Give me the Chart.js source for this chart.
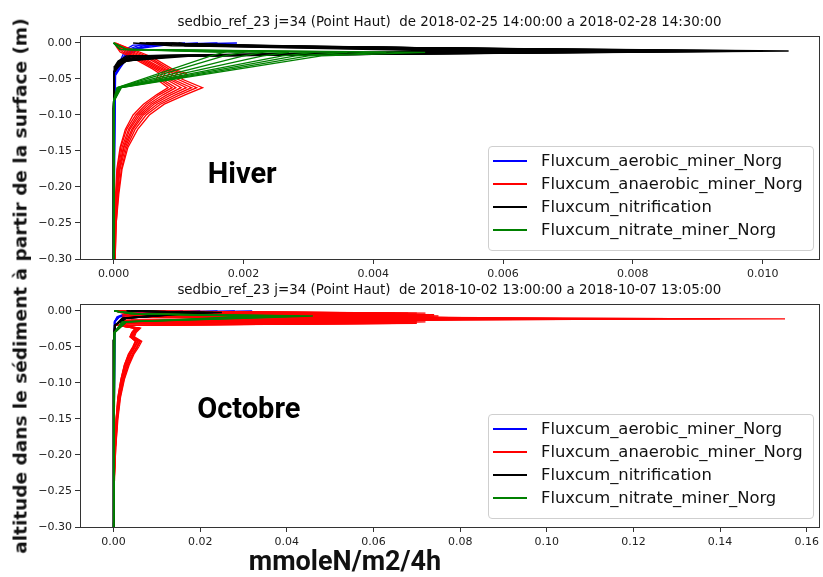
<!DOCTYPE html>
<html>
<head>
<meta charset="utf-8">
<script src="https://cdn.jsdelivr.net/npm/chart.js@4.4.1/dist/chart.umd.min.js"></script>
<style>
  html, body { margin: 0; padding: 0; background: #fff; }
  #page { position: relative; width: 823px; height: 577px; overflow: hidden; background: #fff; }
  canvas { position: absolute; left: 0; }
  #hiver { top: 0; }
  #octobre { top: 268px; }
  .legend {
    position: absolute; left: 488px; width: 326px; height: 105px; box-sizing: border-box;
    border: 1px solid #cfcfcf; border-radius: 4px; background: rgba(255,255,255,0.85);
    font: 16.4px "DejaVu Sans"; color: #111; z-index: 2;
  }
  .legend .row { position: absolute; left: 0; width: 100%; height: 23px; line-height: 23px; }
  .legend .swatch { position: absolute; left: 4px; top: 11px; width: 34px; height: 0; border-top: 2px solid; }
  .legend .txt { position: absolute; left: 52px; top: 0; white-space: nowrap; }
  .ylabel {
    position: absolute; left: 20px; top: 286px; transform: translate(-50%, -50%) rotate(-90deg);
    font: bold 18.5px "DejaVu Sans"; white-space: nowrap; color: #111; z-index: 2;
  }
  .xlabel {
    position: absolute; left: 345px; top: 561px; transform: translate(-50%, -50%);
    font: bold 27px Roboto; white-space: nowrap; color: #111; z-index: 2;
  }
</style>
</head>
<body>
<div id="page">
  <canvas id="hiver" width="823" height="290"></canvas>
  <canvas id="octobre" width="823" height="300"></canvas>
  <div class="legend" id="legHiver" style="top:146px"></div>
  <div class="legend" id="legOctobre" style="top:414px"></div>
  <div class="ylabel">altitude dans le sédiment à partir de la surface (m)</div>
  <div class="xlabel">mmoleN/m2/4h</div>
</div>
<script>
const seriesNames = ["Fluxcum_aerobic_miner_Norg", "Fluxcum_anaerobic_miner_Norg", "Fluxcum_nitrification", "Fluxcum_nitrate_miner_Norg"];
const seriesColors = ["#0000ff", "#ff0000", "#000000", "#008000"];
const seriesWidths = [1.3, 1.3, 1.5, 1.3];

const yTicks = [0, -0.05, -0.10, -0.15, -0.20, -0.25, -0.30];
const hiverXTicks = [0, 0.002, 0.004, 0.006, 0.008, 0.010];
const octobreXTicks = [0, 0.02, 0.04, 0.06, 0.08, 0.10, 0.12, 0.14, 0.16];

// --- winter run: depth levels (m) and cumulated flux profiles ---
const hiverAerDepth = [0, -0.003, -0.008, -0.015, -0.025, -0.035, -0.045, -0.31];
const hiverAer = [
  [0.0019, 0.0003, 0.0002, 0.00015, 0.0001, 0.00005, 0.00001, 0],
  [0.0016, 0.0004, 0.00025, 0.00018, 0.00012, 0.00006, 0.00001, 0],
  [0.0013, 0.0005, 0.0003, 0.0002, 0.00013, 0.00007, 0.00002, 0],
  [0.0011, 0.0006, 0.00032, 0.00022, 0.00015, 0.00008, 0.00002, 0],
  [0.0009, 0.0008, 0.00035, 0.00024, 0.00016, 0.00009, 0.00002, 0],
  [0.0007, 0.0006, 0.0004, 0.00026, 0.00018, 0.0001, 0.00003, 0]
];

const hiverAnaDepth = [0, -0.006, -0.0125, -0.02, -0.028, -0.036, -0.042, -0.05, -0.062, -0.072, -0.085, -0.1, -0.12, -0.145, -0.175, -0.21, -0.25, -0.31];
const hiverAna = [
  [0.00003, 0.0002, 0.0004, 0.0006, 0.00075, 0.0009, 0.00112, 0.00105, 0.00137, 0.0011, 0.00078, 0.00055, 0.00037, 0.00022, 0.00013, 0.00008, 0.00004, 0.00002],
  [0.00003, 0.00018, 0.00035, 0.00055, 0.0007, 0.00085, 0.00105, 0.00098, 0.00128, 0.00102, 0.00072, 0.0005, 0.00033, 0.0002, 0.00012, 0.00007, 0.00004, 0.00002],
  [0.00002, 0.00015, 0.0003, 0.0005, 0.00066, 0.0008, 0.00098, 0.0009, 0.0012, 0.00095, 0.00067, 0.00046, 0.0003, 0.00018, 0.0001, 0.00006, 0.00003, 0.00002],
  [0.00002, 0.00012, 0.00026, 0.00045, 0.0006, 0.00076, 0.00092, 0.00085, 0.00112, 0.00088, 0.00062, 0.00043, 0.00028, 0.00016, 0.00009, 0.00005, 0.00003, 0.00001],
  [0.00002, 0.0001, 0.00022, 0.0004, 0.00056, 0.00072, 0.00086, 0.0008, 0.00104, 0.00082, 0.00058, 0.0004, 0.00025, 0.00015, 0.00008, 0.00005, 0.00003, 0.00001],
  [0.00001, 0.00008, 0.00018, 0.00036, 0.00052, 0.00068, 0.0008, 0.00074, 0.00096, 0.00076, 0.00054, 0.00037, 0.00023, 0.00013, 0.00007, 0.00004, 0.00002, 0.00001],
  [0.00001, 0.00006, 0.00014, 0.00032, 0.00048, 0.00064, 0.00075, 0.0007, 0.0009, 0.0007, 0.0005, 0.00034, 0.0002, 0.00011, 0.00006, 0.00004, 0.00002, 0.00001],
  [0.00001, 0.00005, 0.0001, 0.00028, 0.00044, 0.0006, 0.0007, 0.00066, 0.00084, 0.00066, 0.00046, 0.0003, 0.00018, 0.0001, 0.00005, 0.00003, 0.00002, 0.00001]
];

const hiverNitDepth = [0, -0.004, -0.011, -0.018, -0.025, -0.032, -0.04, -0.09, -0.31];
const hiverNit = [
  [0.0003, 0.0009, 0.0104, 0.0005, 0.0002, 0.00008, 0.00001, 0.000005, 0],
  [0.0004, 0.0012, 0.0100, 0.0008, 0.0002, 0.00008, 0.00001, 0.000005, 0],
  [0.0004, 0.0015, 0.0096, 0.001, 0.00018, 0.00007, 0.00001, 0, 0],
  [0.0005, 0.0018, 0.0092, 0.0012, 0.00016, 0.00006, 0.00001, 0, 0],
  [0.0005, 0.0021, 0.0088, 0.0009, 0.00015, 0.00006, 0.00001, 0, 0],
  [0.0006, 0.0024, 0.0084, 0.0007, 0.00014, 0.00005, 0.00001, 0, 0],
  [0.0006, 0.0026, 0.008, 0.0006, 0.00013, 0.00005, 0.00001, 0, 0],
  [0.0007, 0.0022, 0.0075, 0.0005, 0.00012, 0.00004, 0.00001, 0, 0],
  [0.0008, 0.0018, 0.007, 0.0004, 0.0001, 0.00004, 0.00001, 0, 0],
  [0.0009, 0.0015, 0.0064, 0.0003, 0.0001, 0.00003, 0.00001, 0, 0],
  [0.001, 0.0013, 0.0058, 0.00025, 0.00008, 0.00003, 0.00001, 0, 0],
  [0.0011, 0.0011, 0.0052, 0.0002, 0.00007, 0.00002, 0.00001, 0, 0]
];

const hiverNmDepth = [0, -0.009, -0.013, -0.018, -0.062, -0.08, -0.31];
const hiverNm = [
  [0, 0.0002, 0.0048, 0.0032, 0.00012, 0.00001, 0],
  [0, 0.0002, 0.0042, 0.003, 0.00011, 0.00001, 0],
  [0, 0.0002, 0.0036, 0.0028, 0.0001, 0.00001, 0],
  [0, 0.0002, 0.0031, 0.0026, 0.00009, 0.00001, 0],
  [0, 0.0001, 0.0027, 0.0023, 0.00008, 0, 0],
  [0, 0.0001, 0.0023, 0.002, 0.00007, 0, 0],
  [0, 0.0001, 0.002, 0.0017, 0.00006, 0, 0],
  [0, 0.0001, 0.0017, 0.0015, 0.00005, 0, 0]
];

// --- october run ---
const octAerDepth = [0, -0.003, -0.008, -0.015, -0.31];
const octAer = [
  [0.032, 0.003, 0.0008, 0.0002, 0],
  [0.028, 0.004, 0.001, 0.0002, 0],
  [0.024, 0.004, 0.001, 0.0002, 0],
  [0.02, 0.005, 0.0012, 0.0003, 0],
  [0.016, 0.005, 0.0012, 0.0003, 0],
  [0.012, 0.006, 0.0014, 0.0003, 0]
];

// thin surface layers oscillate strongly from one output to the next
const octAnaDepth = [0, -0.003, -0.005, -0.007, -0.009, -0.011, -0.013, -0.015, -0.017, -0.02, -0.024, -0.03, -0.036, -0.042, -0.05, -0.06, -0.075, -0.095, -0.12, -0.15, -0.19, -0.23, -0.31];
const octAna = [
  [0.0005, 0.06, 0.004, 0.07, 0.003, 0.155, 0.004, 0.06, 0.003, 0.002, 0.0062, 0.0052, 0.0048, 0.0065, 0.0058, 0.0047, 0.0036, 0.0025, 0.0016, 0.001, 0.0005, 0.0002, 0.00005],
  [0.0005, 0.004, 0.07, 0.003, 0.074, 0.14, 0.003, 0.002, 0.065, 0.002, 0.006, 0.005, 0.0046, 0.0062, 0.0055, 0.0045, 0.0034, 0.0024, 0.0015, 0.0009, 0.0005, 0.0002, 0.00005],
  [0.0004, 0.065, 0.002, 0.072, 0.004, 0.125, 0.07, 0.003, 0.05, 0.0018, 0.0059, 0.0049, 0.0045, 0.0061, 0.0054, 0.0044, 0.0033, 0.0023, 0.0014, 0.0009, 0.0004, 0.0002, 0.00004],
  [0.0004, 0.003, 0.068, 0.005, 0.075, 0.11, 0.002, 0.07, 0.004, 0.0016, 0.0058, 0.0048, 0.0044, 0.006, 0.0053, 0.0043, 0.0032, 0.0022, 0.0014, 0.0008, 0.0004, 0.0002, 0.00004],
  [0.0004, 0.07, 0.003, 0.074, 0.002, 0.1, 0.004, 0.072, 0.06, 0.0015, 0.0056, 0.0046, 0.0042, 0.0057, 0.005, 0.004, 0.003, 0.002, 0.0013, 0.0008, 0.0004, 0.00015, 0.00004],
  [0.0003, 0.002, 0.072, 0.003, 0.075, 0.09, 0.003, 0.068, 0.003, 0.0012, 0.0055, 0.0045, 0.0041, 0.0056, 0.0049, 0.0039, 0.0029, 0.002, 0.0012, 0.0007, 0.0003, 0.00015, 0.00003],
  [0.0003, 0.068, 0.004, 0.073, 0.003, 0.085, 0.072, 0.002, 0.07, 0.001, 0.0054, 0.0045, 0.004, 0.0055, 0.0048, 0.0038, 0.0028, 0.0019, 0.0012, 0.0007, 0.0003, 0.00015, 0.00003],
  [0.0003, 0.005, 0.074, 0.002, 0.074, 0.08, 0.003, 0.07, 0.002, 0.001, 0.0052, 0.0043, 0.0039, 0.0052, 0.0046, 0.0036, 0.0026, 0.0018, 0.0011, 0.0006, 0.0003, 0.0001, 0.00003],
  [0.0002, 0.072, 0.003, 0.075, 0.004, 0.078, 0.07, 0.003, 0.066, 0.001, 0.0051, 0.0042, 0.0038, 0.0051, 0.0045, 0.0035, 0.0025, 0.0017, 0.001, 0.0006, 0.0003, 0.0001, 0.00002],
  [0.0002, 0.004, 0.073, 0.004, 0.073, 0.076, 0.004, 0.068, 0.003, 0.001, 0.005, 0.0042, 0.0038, 0.005, 0.0044, 0.0034, 0.0025, 0.0017, 0.001, 0.0006, 0.0003, 0.0001, 0.00002]
];

const octNitDepth = [0, -0.002, -0.005, -0.01, -0.02, -0.04, -0.31];
const octNit = [
  [0.003, 0.025, 0.012, 0.002, 0.0004, 0.00005, 0],
  [0.003, 0.023, 0.013, 0.002, 0.0004, 0.00005, 0],
  [0.004, 0.021, 0.014, 0.0025, 0.0003, 0.00004, 0],
  [0.004, 0.019, 0.015, 0.0025, 0.0003, 0.00004, 0],
  [0.005, 0.017, 0.014, 0.003, 0.0003, 0.00003, 0],
  [0.005, 0.015, 0.013, 0.003, 0.0002, 0.00003, 0]
];

const octNmDepth = [0, -0.004, -0.007, -0.01, -0.015, -0.03, -0.31];
const octNm = [
  [0.0002, 0.004, 0.046, 0.032, 0.003, 0.0003, 0],
  [0.0002, 0.004, 0.043, 0.03, 0.003, 0.0003, 0],
  [0.0002, 0.005, 0.04, 0.028, 0.0025, 0.0002, 0],
  [0.0001, 0.005, 0.037, 0.026, 0.0025, 0.0002, 0],
  [0.0001, 0.006, 0.034, 0.024, 0.002, 0.0002, 0],
  [0.0001, 0.006, 0.031, 0.022, 0.002, 0.0001, 0]
];

Chart.defaults.font.family = '"DejaVu Sans"';
Chart.defaults.font.size = 11;
Chart.defaults.color = "#222";

function toPoints(depths, profiles) {
  return profiles.map(vals => vals.map((v, i) => ({ x: v, y: depths[i] })));
}

// one dataset per profile; later series are drawn on top (like successive plot calls)
function buildDatasets(groups) {
  const out = [];
  groups.forEach((g, s) => {
    toPoints(g[0], g[1]).forEach(pts => out.push({
      label: seriesNames[s],
      data: pts,
      borderColor: seriesColors[s],
      borderWidth: seriesWidths[s],
      pointRadius: 0,
      showLine: true,
      fill: false,
      order: groups.length - s
    }));
  });
  return out;
}

const framePlugin = {
  id: "frame",
  afterDatasetsDraw(chart) {
    const a = chart.chartArea, ctx = chart.ctx;
    ctx.save();
    ctx.strokeStyle = "#333";
    ctx.lineWidth = 1;
    ctx.strokeRect(Math.round(a.left) + 0.5, Math.round(a.top) + 0.5, Math.round(a.right - a.left), Math.round(a.bottom - a.top));
    ctx.restore();
  }
};

const panelText = {
  id: "panelText",
  afterDraw(chart, args, opts) {
    const a = chart.chartArea, ctx = chart.ctx;
    ctx.save();
    ctx.fillStyle = "#111";
    ctx.font = '13.4px "DejaVu Sans"';
    ctx.textAlign = "center";
    ctx.textBaseline = "middle";
    ctx.fillText(opts.title, (a.left + a.right) / 2, a.top - 13);
    ctx.font = "bold 29px Roboto";
    ctx.textAlign = "left";
    ctx.fillStyle = "#000";
    ctx.fillText(opts.label, chart.scales.x.getPixelForValue(opts.labelX), chart.scales.y.getPixelForValue(opts.labelY));
    ctx.restore();
  }
};

function axisGrid() {
  return { drawOnChartArea: false, drawTicks: true, tickLength: 5, color: "#333", lineWidth: 1 };
}

function makePanel(id, groups, cfg) {
  return new Chart(document.getElementById(id), {
    type: "scatter",
    data: { datasets: buildDatasets(groups) },
    options: {
      responsive: false,
      animation: false,
      events: [],
      devicePixelRatio: 1,
      layout: { padding: { top: 36, right: 4, bottom: 0, left: 0 } },
      scales: {
        x: {
          type: "linear",
          min: cfg.xMin,
          max: cfg.xMax,
          afterBuildTicks: s => { s.ticks = cfg.xTicks.map(v => ({ value: v })); },
          afterFit: s => { s.height = cfg.xAxisHeight; },
          grid: axisGrid(),
          border: { display: false },
          ticks: { autoSkip: false, maxRotation: 0, padding: 4, callback: v => v.toFixed(cfg.xDecimals) }
        },
        y: {
          type: "linear",
          min: -0.30,
          max: 0.0097,
          afterBuildTicks: s => { s.ticks = yTicks.map(v => ({ value: v })); },
          afterFit: s => { s.width = 80; },
          grid: axisGrid(),
          border: { display: false },
          ticks: { padding: 3, callback: v => (v < -1e-9 ? "\u2212" : "") + Math.abs(v).toFixed(2) }
        }
      },
      plugins: {
        legend: { display: false },
        tooltip: { enabled: false },
        panelText: { title: cfg.title, label: cfg.label, labelX: cfg.labelX, labelY: cfg.labelY }
      }
    },
    plugins: [framePlugin, panelText]
  });
}

makePanel("hiver", [
  [hiverAerDepth, hiverAer], [hiverAnaDepth, hiverAna], [hiverNitDepth, hiverNit], [hiverNmDepth, hiverNm]
], {
  xMin: -0.000518, xMax: 0.010868, xTicks: hiverXTicks, xDecimals: 3, xAxisHeight: 31,
  title: "sedbio_ref_23 j=34 (Point Haut)  de 2018-02-25 14:00:00 a 2018-02-28 14:30:00",
  label: "Hiver", labelX: 0.00145, labelY: -0.184
});

makePanel("octobre", [
  [octAerDepth, octAer], [octAnaDepth, octAna], [octNitDepth, octNit], [octNmDepth, octNm]
], {
  xMin: -0.00775, xMax: 0.16275, xTicks: octobreXTicks, xDecimals: 2, xAxisHeight: 41,
  title: "sedbio_ref_23 j=34 (Point Haut)  de 2018-10-02 13:00:00 a 2018-10-07 13:05:00",
  label: "Octobre", labelX: 0.0193, labelY: -0.139
});

// legends sit inside the lower right of each panel
function fillLegend(el) {
  seriesNames.forEach((name, i) => {
    const row = document.createElement("div");
    row.className = "row";
    row.style.top = (1.5 + i * 23) + "px";
    const sw = document.createElement("span");
    sw.className = "swatch";
    sw.style.borderTopColor = seriesColors[i];
    const tx = document.createElement("span");
    tx.className = "txt";
    tx.textContent = name;
    row.appendChild(sw);
    row.appendChild(tx);
    el.appendChild(row);
  });
}
fillLegend(document.getElementById("legHiver"));
fillLegend(document.getElementById("legOctobre"));
</script>
</body>
</html>
